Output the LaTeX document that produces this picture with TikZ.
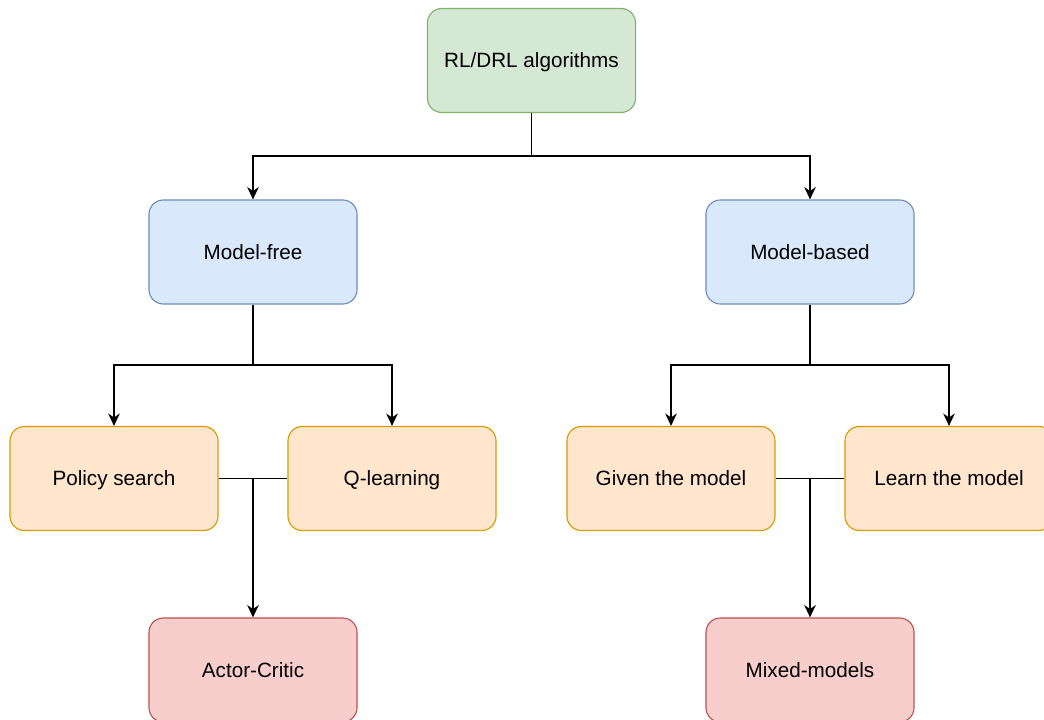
\documentclass[tikz,border=0pt]{standalone}
\usepackage{fontspec}
\setmainfont{Liberation Sans}
\usetikzlibrary{arrows.meta}
\definecolor{greenfill}{HTML}{D5E8D4}
\definecolor{greenline}{HTML}{82B366}
\definecolor{bluefill}{HTML}{DAE8FC}
\definecolor{blueline}{HTML}{6C8EBF}
\definecolor{orangefill}{HTML}{FFE6CC}
\definecolor{orangeline}{HTML}{D79B00}
\definecolor{redfill}{HTML}{F8CECC}
\definecolor{redline}{HTML}{B85450}
\tikzset{
  box/.style={draw, rounded corners=0.36cm, line width=0.8pt, minimum width=5.2cm,
    minimum height=2.6cm, text height=10.5pt, text depth=0pt,
    font=\fontsize{14.7}{17}\selectfont},
  root/.style={box, fill=greenfill, draw=greenline},
  kind/.style={box, fill=bluefill, draw=blueline},
  method/.style={box, fill=orangefill, draw=orangeline},
  hybrid/.style={box, fill=redfill, draw=redline},
  arr/.style={line width=1.1pt, -{Stealth[length=3.1mm, width=2.9mm, inset=1mm]}},
  link/.style={line width=1.1pt}
}
\begin{document}
\begin{tikzpicture}[x=0.025cm, y=-0.025cm]
  \useasboundingbox (0,0) rectangle (1044,720);
  \node[root] (rl) at (531.5,60.5) {RL/DRL algorithms};
  \node[kind] (free) at (253,252) {Model-free};
  \node[kind] (based) at (810,252) {Model-based};
  \node[method] (policy) at (114,478.5) {Policy search};
  \node[method] (qlearn) at (392,478.5) {Q-learning};
  \node[method] (given) at (671,478.5) {Given the model};
  \node[method] (learn) at (949,478.5) {Learn the model};
  \node[hybrid] (actor) at (253,670) {Actor-Critic};
  \node[hybrid] (mixed) at (810,670) {Mixed-models};
  % split points
  \coordinate (top) at (531.5,156);
  \coordinate (left) at (253,365);
  \coordinate (right) at (810,365);
  \coordinate (mixl) at (253,478.5);
  \coordinate (mixr) at (810,478.5);
  \draw[link] (rl.south) -- (top);
  \draw[arr] (top) -| (free.north);
  \draw[arr] (top) -| (based.north);
  \draw[link] (free.south) -- (left);
  \draw[arr] (left) -| (policy.north);
  \draw[arr] (left) -| (qlearn.north);
  \draw[link] (based.south) -- (right);
  \draw[arr] (right) -| (given.north);
  \draw[arr] (right) -| (learn.north);
  \draw[link] (policy.east) -- (qlearn.west);
  \draw[arr] (mixl) -- (actor.north);
  \draw[link] (given.east) -- (learn.west);
  \draw[arr] (mixr) -- (mixed.north);
\end{tikzpicture}
\end{document}
